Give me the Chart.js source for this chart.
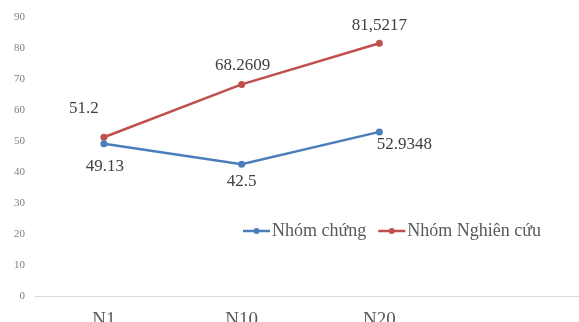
<!DOCTYPE html>
<html>
<head>
<meta charset="utf-8">
<script src="https://cdn.jsdelivr.net/npm/chart.js@4.4.1/dist/chart.umd.min.js"></script>
<style>
  html, body { margin: 0; padding: 0; background: #fff; overflow: hidden; }
  /* plot continues a little past the right edge, as in the cropped original */
  #wrap { width: 590px; height: 322px; }
</style>
</head>
<body>
<div id="wrap"><canvas id="chart"></canvas></div>
<script>
// categories (4th slot is empty in the original sheet)
const categories = ['N1', 'N10', 'N20', ''];
const controlValues = [49.13, 42.5, 52.9348];
const researchValues = [51.2, 68.2609, 81.5217];
const controlLabels = ['49.13', '42.5', '52.9348'];
const researchLabels = ['51.2', '68.2609', '81,5217'];
const seriesNames = ['Nhóm chứng', 'Nhóm Nghiên cứu'];

const BLUE = '#4a7ebb';
const RED = '#c0504d';
const SERIF = '"Liberation Serif", "Times New Roman", serif';

// offsets of the value labels from their points (dx, dy)
const labelOffsets = [
    [[1, 23], [0, 17], [25, 13]],
    [[-20, -29], [1, -19], [0, -18]]
];

const valueLabels = {
    id: 'valueLabels',
    afterDatasetsDraw(chart) {
        const ctx = chart.ctx;
        const texts = [controlLabels, researchLabels];
        ctx.save();
        ctx.font = '17px ' + SERIF;
        ctx.fillStyle = '#404040';
        ctx.textAlign = 'center';
        ctx.textBaseline = 'middle';
        chart.data.datasets.forEach((ds, i) => {
            chart.getDatasetMeta(i).data.forEach((pt, j) => {
                const off = labelOffsets[i][j];
                ctx.fillText(texts[i][j], pt.x + off[0], pt.y + off[1]);
            });
        });
        ctx.restore();
    }
};

// legend drawn inside the plot, like the office chart
const innerLegend = {
    id: 'innerLegend',
    afterDraw(chart) {
        const ctx = chart.ctx;
        let x = 243;
        const y = 231;
        ctx.save();
        ctx.font = '18px ' + SERIF;
        ctx.textBaseline = 'middle';
        chart.data.datasets.forEach((ds) => {
            ctx.strokeStyle = ds.borderColor;
            ctx.lineWidth = 2.5;
            ctx.beginPath();
            ctx.moveTo(x, y);
            ctx.lineTo(x + 27, y);
            ctx.stroke();
            ctx.fillStyle = ds.borderColor;
            ctx.beginPath();
            ctx.arc(x + 13.5, y, 3, 0, Math.PI * 2);
            ctx.fill();
            ctx.fillStyle = '#595959';
            ctx.fillText(ds.label, x + 29, y);
            x += 29 + ctx.measureText(ds.label).width + 12;
        });
        ctx.restore();
    }
};

new Chart(document.getElementById('chart'), {
    type: 'line',
    data: {
        labels: categories,
        datasets: [
            {
                label: seriesNames[0],
                data: controlValues,
                borderColor: BLUE,
                backgroundColor: BLUE,
                borderWidth: 2.5,
                pointRadius: 3.5,
                pointBorderWidth: 0,
                pointBackgroundColor: BLUE,
                tension: 0
            },
            {
                label: seriesNames[1],
                data: researchValues,
                borderColor: RED,
                backgroundColor: RED,
                borderWidth: 2.5,
                pointRadius: 3.5,
                pointBorderWidth: 0,
                pointBackgroundColor: RED,
                tension: 0
            }
        ]
    },
    options: {
        responsive: true,
        maintainAspectRatio: false,
        animation: false,
        layout: { padding: { top: 17, right: 0, left: 0, bottom: 0 } },
        plugins: {
            legend: { display: false },
            tooltip: { enabled: false }
        },
        scales: {
            x: {
                offset: true,
                grid: { display: false, drawTicks: false },
                border: { display: true, color: '#d9d9d9', width: 1 },
                ticks: {
                    color: '#595959',
                    font: { family: SERIF, size: 19 },
                    padding: 13,
                    maxRotation: 0,
                    autoSkip: false
                },
                afterFit(scale) { scale.height = 26; }
            },
            y: {
                min: 0,
                max: 90,
                grid: { display: false, drawTicks: false },
                border: { display: false },
                ticks: {
                    stepSize: 10,
                    color: '#7f7f7f',
                    font: { family: SERIF, size: 11 },
                    padding: 10
                },
                afterFit(scale) { scale.width = 35; }
            }
        }
    },
    plugins: [valueLabels, innerLegend]
});
</script>
</body>
</html>
